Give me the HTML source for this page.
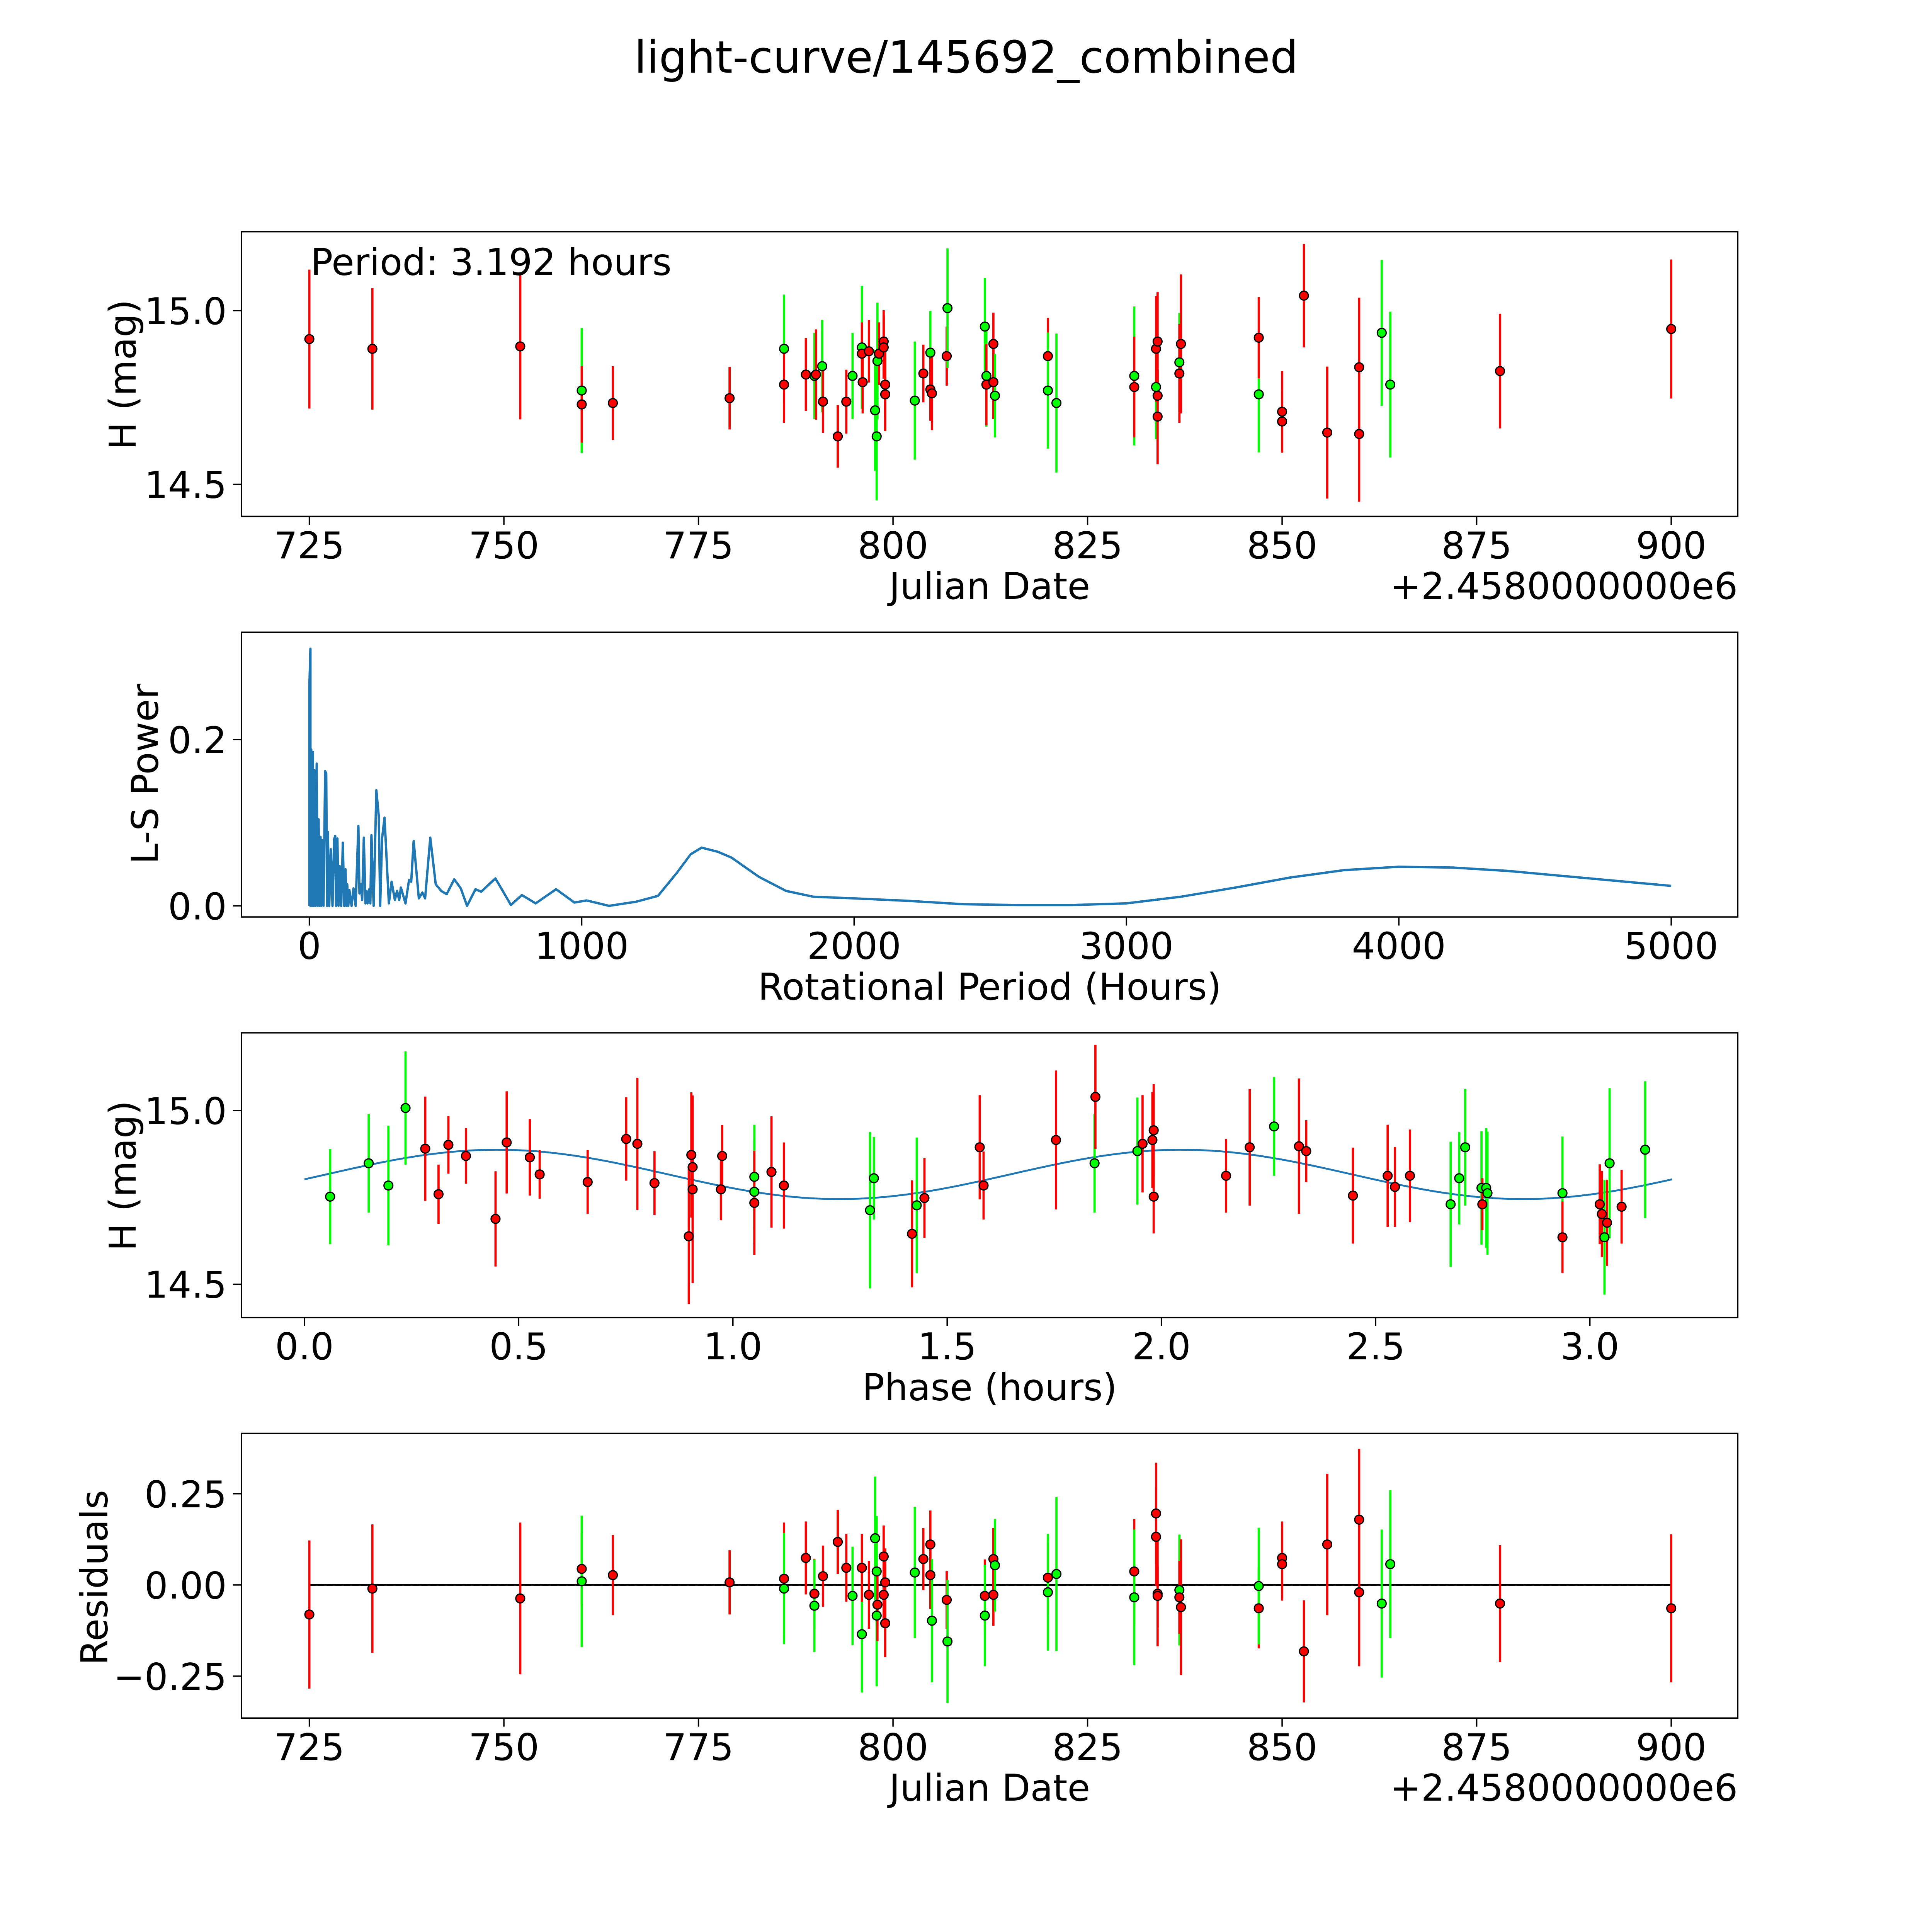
<!DOCTYPE html>
<html><head><meta charset="utf-8"><style>
html,body{margin:0;padding:0;background:#fff;overflow:hidden}
svg{display:block}
text{font-family:"DejaVu Sans","Liberation Sans",sans-serif;fill:#000}
</style></head><body>
<svg id="fig" width="5400" height="5400" viewBox="0 0 1693 1693" xmlns="http://www.w3.org/2000/svg">
<rect width="1693" height="1693" fill="#fff"/>
<text x="784" y="59" font-size="36" text-anchor="middle">light-curve/145692_combined</text>
<g id="g1"></g>
<g id="g2"></g>
<g id="g3"></g>
<g id="g4"></g>
</svg>
<script>
// ---- Panel 1: light curve ----
const p1Date=[725.0,733.1,752.1,760.0,760.0,764.0,779.0,786.0,786.0,788.8,789.9,790.1,790.9,791.0,792.9,794.0,794.8,796.0,796.0,796.1,796.9,797.7,797.9,798.0,798.2,798.8,798.8,799.0,799.0,802.8,803.9,804.8,804.8,805.0,806.9,807.0,811.8,812.0,812.0,812.9,812.9,813.1,819.9,819.9,821.0,831.0,831.0,833.8,833.8,834.0,834.0,834.0,836.8,836.8,837.0,847.0,847.0,850.0,850.0,852.8,855.8,859.9,859.9,862.8,863.9,878.0,900.0];
const p1Mag=[14.918,14.890,14.897,14.770,14.730,14.734,14.748,14.890,14.787,14.816,14.812,14.816,14.840,14.738,14.638,14.738,14.812,14.894,14.876,14.794,14.883,14.713,14.638,14.855,14.876,14.911,14.894,14.787,14.759,14.741,14.819,14.879,14.773,14.762,14.869,15.007,14.954,14.812,14.787,14.904,14.794,14.755,14.869,14.770,14.734,14.812,14.780,14.780,14.890,14.911,14.755,14.695,14.851,14.819,14.904,14.759,14.922,14.709,14.681,15.043,14.649,14.645,14.837,14.936,14.787,14.826,14.947];
const p1Err=[0.20,0.175,0.21,0.18,0.11,0.106,0.09,0.156,0.11,0.105,0.124,0.13,0.133,0.09,0.09,0.092,0.124,0.177,0.09,0.09,0.09,0.174,0.184,0.168,0.09,0.09,0.09,0.094,0.106,0.17,0.083,0.12,0.09,0.106,0.085,0.172,0.14,0.146,0.117,0.09,0.106,0.12,0.11,0.167,0.2,0.2,0.145,0.15,0.152,0.142,0.07,0.137,0.142,0.142,0.2,0.167,0.117,0.117,0.09,0.149,0.19,0.195,0.2,0.21,0.21,0.165,0.20];
const p1Col=['r','r','r','g','r','r','r','g','r','r','g','r','g','r','r','r','g','g','r','r','r','g','g','g','r','r','r','r','r','g','r','g','r','r','r','g','g','g','r','r','r','g','r','g','g','g','r','g','r','r','r','r','g','r','r','g','r','r','r','r','r','r','r','g','g','r','r'];
const dateTicks=[725,750,775,800,825,850,875,900];
const magTicks=[15.0,14.5];
// ---- Panel 2: periodogram ----
const lsPeriod=[0,0,4,4,7,10,13,16,19,22,27,30,34,37,41,44,47,52,58,62,65,68,73,79,85,91,95,98,103,107,111,117,123,128,133,136,139,143,147,155,162,170,180,184,189,194,200,206,210,214,220,224,228,236,246,255,260,267,276,292,302,314,322,330,336,353,366,374,383,402,415,425,444,464,484,504,532,556,579,610,631,683,710,740,780,831,906,973,1018,1100,1200,1280,1350,1400,1440,1500,1550,1650,1750,1850,2000,2200,2400,2600,2800,3000,3200,3400,3600,3800,4000,4200,4400,4600,4800,5000];
const lsPower=[0,0.263,0.309,0,0.188,0,0.185,0,0.163,0,0.171,0,0.104,0,0.083,0,0.079,0,0.162,0.159,0,0.089,0,0.068,0,0.08,0.084,0,0.081,0,0.048,0,0.076,0,0.044,0,0.026,0,0.019,0,0.021,0,0.096,0.015,0.026,0.007,0.082,0.003,0.018,0.003,0.02,0.003,0.085,0,0.139,0.107,0,0.081,0.106,0.003,0.029,0.007,0.018,0.007,0.022,0.003,0.031,0.029,0.078,0.009,0.016,0.009,0.082,0.026,0.018,0.014,0.032,0.021,0.0,0.02,0.017,0.033,0.018,0.001,0.013,0.003,0.02,0.004,0.0065,0.0,0.005,0.012,0.04,0.062,0.07,0.065,0.058,0.035,0.018,0.011,0.009,0.006,0.002,0.001,0.001,0.003,0.011,0.022,0.034,0.043,0.047,0.046,0.042,0.036,0.03,0.024];
const periodTicks=[0,1000,2000,3000,4000,5000];
const powerTicks=[0.0,0.2];
// ---- Panel 3: phased ----
const p3Phase=[0.060,0.150,0.196,0.236,0.282,0.313,0.336,0.377,0.446,0.472,0.526,0.549,0.661,0.751,0.777,0.817,0.897,0.903,0.906,0.906,0.975,0.972,1.050,1.050,1.050,1.090,1.119,1.320,1.329,1.418,1.429,1.447,1.576,1.585,1.754,1.844,1.846,1.944,1.956,1.979,1.982,1.982,2.151,2.206,2.263,2.321,2.338,2.447,2.528,2.545,2.580,2.675,2.695,2.709,2.747,2.749,2.758,2.761,2.936,2.936,3.023,3.028,3.034,3.040,3.046,3.074,3.129];
const p3Mag=[14.752,14.848,14.784,15.007,14.890,14.759,14.901,14.869,14.688,14.908,14.865,14.816,14.794,14.918,14.904,14.791,14.638,14.872,14.837,14.773,14.869,14.773,14.809,14.766,14.734,14.823,14.784,14.713,14.805,14.645,14.727,14.748,14.894,14.784,14.915,14.848,15.039,14.883,14.904,14.915,14.943,14.752,14.812,14.894,14.954,14.897,14.883,14.755,14.812,14.780,14.812,14.730,14.805,14.894,14.777,14.730,14.777,14.762,14.762,14.635,14.730,14.702,14.635,14.677,14.848,14.723,14.887];
const p3Err=[0.137,0.142,0.172,0.163,0.15,0.085,0.083,0.08,0.137,0.147,0.11,0.07,0.092,0.12,0.19,0.092,0.195,0.18,0.177,0.27,0.089,0.089,0.15,0.15,0.15,0.16,0.124,0.225,0.119,0.154,0.195,0.115,0.15,0.098,0.2,0.142,0.15,0.154,0.14,0.138,0.133,0.106,0.106,0.168,0.142,0.195,0.089,0.138,0.147,0.115,0.133,0.18,0.133,0.168,0.163,0.075,0.172,0.177,0.163,0.103,0.115,0.124,0.165,0.124,0.216,0.106,0.197];
const p3Col=['g','g','g','g','r','r','r','r','r','r','r','r','r','r','r','r','r','r','r','r','r','r','g','g','r','r','r','g','g','r','g','r','r','r','r','g','r','g','r','r','r','r','r','r','g','r','r','r','r','r','r','g','g','g','g','r','g','g','g','r','r','r','g','r','g','r','g'];
const phaseTicks=[0.0,0.5,1.0,1.5,2.0,2.5,3.0];
const modelMean=[14.816];
const modelAmp=[0.071];
const modelPeak=[0.45];
const period=[3.192];
// ---- Panel 4: residuals ----
const p4Date=[725.0,733.1,752.1,760.0,760.0,764.0,779.0,786.0,786.0,788.8,789.9,789.9,791.0,792.9,794.0,794.8,796.0,796.0,796.9,797.7,797.9,797.9,798.0,798.8,798.8,799.0,799.0,802.8,803.9,804.8,804.8,805.0,806.9,807.0,811.8,811.8,812.9,812.9,813.1,819.9,819.9,821.0,831.0,831.0,833.8,833.8,834.0,834.0,836.8,837.0,836.8,847.0,847.0,850.0,850.0,852.8,855.8,859.9,859.9,862.8,863.9,878.0,900.0];
const p4Res=[-0.081,-0.010,-0.037,0.044,0.010,0.027,0.007,0.017,-0.010,0.074,-0.024,-0.057,0.024,0.118,0.047,-0.030,-0.135,0.047,-0.027,0.128,0.037,-0.084,-0.054,0.078,-0.027,-0.105,0.007,0.034,0.071,0.111,0.027,-0.098,-0.041,-0.155,-0.030,-0.084,0.071,-0.027,0.054,0.020,-0.020,0.030,0.037,-0.034,0.196,0.132,-0.024,-0.030,-0.014,-0.061,-0.034,-0.064,-0.003,0.074,0.057,-0.182,0.111,-0.020,0.179,-0.051,0.057,-0.051,-0.064];
const p4Err=[0.203,0.176,0.208,0.10,0.18,0.11,0.088,0.154,0.152,0.10,0.096,0.127,0.084,0.088,0.093,0.135,0.16,0.093,0.093,0.169,0.152,0.194,0.10,0.085,0.085,0.093,0.093,0.18,0.085,0.093,0.093,0.169,0.08,0.169,0.10,0.139,0.085,0.085,0.127,0.10,0.16,0.211,0.144,0.186,0.139,0.135,0.144,0.085,0.152,0.186,0.10,0.11,0.16,0.10,0.10,0.14,0.194,0.203,0.194,0.203,0.203,0.16,0.203];
const p4Col=['r','r','r','r','g','r','r','r','g','r','r','g','r','r','r','g','g','r','r','g','g','g','r','r','r','r','r','g','r','r','r','g','r','g','r','g','r','r','g','r','g','g','r','g','r','r','r','r','g','r','r','r','g','r','r','r','r','r','r','g','g','r','r'];
const resTicks=[-0.25,0.00,0.25];

const NS='http://www.w3.org/2000/svg';
function mk(parent,tag,attrs){const e=document.createElementNS(NS,tag);for(const k in attrs)e.setAttribute(k,attrs[k]);parent.appendChild(e);return e;}
const COL={r:'#ff0000',g:'#00ff00'};
const xDate=d=>251+(d-725)*1105/175;
const y1=m=>252+(15.0-m)*282;
const xPer=p=>251+p*0.221;
const y2=v=>735-v*675;
const xPh=h=>247+h*347.67;
const y3=m=>901+(15.0-m)*282;
const y4=r=>1286-r*296;

function frame(g,top,name){
  const r=mk(g,'rect',{x:196,y:top,width:1214,height:231,fill:'none',stroke:'#000','stroke-width':1.1});
  
  
}
function xtick(g,x,bottom,label,name){
  const l=mk(g,'line',{x1:x,x2:x,y1:bottom,y2:bottom+7,stroke:'#000','stroke-width':1.1});
  
  
  const t=mk(g,'text',{x:x,y:bottom+34,'font-size':30,'text-anchor':'middle'});
  t.textContent=label;
  
  
}
function ytick(g,y,label,name){
  const l=mk(g,'line',{x1:189,x2:196,y1:y,y2:y,stroke:'#000','stroke-width':1.1});
  
  
  const t=mk(g,'text',{x:184,y:y+11,'font-size':30,'text-anchor':'end'});
  t.textContent=label;
  
  
}
function label(g,x,y,txt,rot,name){
  const t=mk(g,'text',{x:x,y:y,'font-size':30,'text-anchor':'middle'});
  if(rot)t.setAttribute('transform','rotate(-90 '+x+' '+y+')');
  t.textContent=txt;
  
  
}
function points(g,xs,ys,errs,cols,fx,fy,name){
  for(let i=0;i<xs.length;i++){
    const x=fx(xs[i]);
    const e=mk(g,'line',{x1:x,x2:x,y1:fy(ys[i]+errs[i]),y2:fy(ys[i]-errs[i]),stroke:COL[cols[i]],'stroke-width':1.8});
    
    
  }
  for(let i=0;i<xs.length;i++){
    const c=mk(g,'circle',{cx:fx(xs[i]),cy:fy(ys[i]),r:3.6,fill:COL[cols[i]],stroke:'#000','stroke-width':1});
    
    
  }
}
function fmt2(v){return (v<0?'\u2212':'')+Math.abs(v).toFixed(2);}

const g1=document.getElementById('g1');
frame(g1,188,'lightcurve');
dateTicks.forEach(d=>xtick(g1,xDate(d),419,String(d),'date'));
magTicks.forEach(m=>ytick(g1,y1(m),m.toFixed(1),'mag'));
points(g1,p1Date,p1Mag,p1Err,p1Col,xDate,y1,'observation');
label(g1,803,486,'Julian Date',false,'x-axis-title-date');
label(g1,110,304,'H (mag)',true,'y-axis-title-mag');
let t=mk(g1,'text',{x:1410,y:486,'font-size':30,'text-anchor':'end'});t.textContent='+2.4580000000e6';


t=mk(g1,'text',{x:252,y:223,'font-size':30});t.textContent='Period: 3.192 hours';



const g2=document.getElementById('g2');
frame(g2,513,'periodogram');
periodTicks.forEach(p=>xtick(g2,xPer(p),744,String(p),'period'));
powerTicks.forEach(v=>ytick(g2,y2(v),v.toFixed(1),'power'));
let d='';
for(let i=0;i<lsPeriod.length;i++){d+=(i?'L':'M')+xPer(lsPeriod[i]).toFixed(2)+' '+y2(lsPower[i]).toFixed(2);}
const ls=mk(g2,'path',{d:d,fill:'none',stroke:'#1f77b4','stroke-width':1.9,'stroke-linejoin':'round'});


label(g2,803,811,'Rotational Period (Hours)',false,'x-axis-title-period');
label(g2,128,628,'L-S Power',true,'y-axis-title-power');

const g3=document.getElementById('g3');
frame(g3,838,'phase');
phaseTicks.forEach(h=>xtick(g3,xPh(h),1069,h.toFixed(1),'phase'));
magTicks.forEach(m=>ytick(g3,y3(m),m.toFixed(1),'phase-mag'));
d='';
for(let i=0;i<=200;i++){const h=period[0]*i/200;const m=modelMean[0]+modelAmp[0]*Math.cos(2*Math.PI*2*(h-modelPeak[0])/period[0]);d+=(i?'L':'M')+xPh(h).toFixed(2)+' '+y3(m).toFixed(2);}
const mc=mk(g3,'path',{d:d,fill:'none',stroke:'#1f77b4','stroke-width':1.5});


points(g3,p3Phase,p3Mag,p3Err,p3Col,xPh,y3,'phased-observation');
label(g3,803,1136,'Phase (hours)',false,'x-axis-title-phase');
label(g3,110,954,'H (mag)',true,'y-axis-title-phase-mag');

const g4=document.getElementById('g4');
frame(g4,1163,'residuals');
dateTicks.forEach(dd=>xtick(g4,xDate(dd),1394,String(dd),'res-date'));
resTicks.forEach(r=>ytick(g4,y4(r),fmt2(r),'residual'));
const zl=mk(g4,'line',{x1:xDate(725),x2:xDate(900),y1:y4(0),y2:y4(0),stroke:'#000','stroke-width':1.3});


const zd=mk(g4,'line',{x1:xDate(725),x2:xDate(900),y1:y4(0),y2:y4(0),stroke:'#000','stroke-width':1.3,'stroke-dasharray':'5 2'});


points(g4,p4Date,p4Res,p4Err,p4Col,xDate,y4,'residual');
label(g4,803,1461,'Julian Date',false,'x-axis-title-res-date');
label(g4,87,1280,'Residuals',true,'y-axis-title-residuals');
t=mk(g4,'text',{x:1410,y:1461,'font-size':30,'text-anchor':'end'});t.textContent='+2.4580000000e6';


</script>
</body></html>
